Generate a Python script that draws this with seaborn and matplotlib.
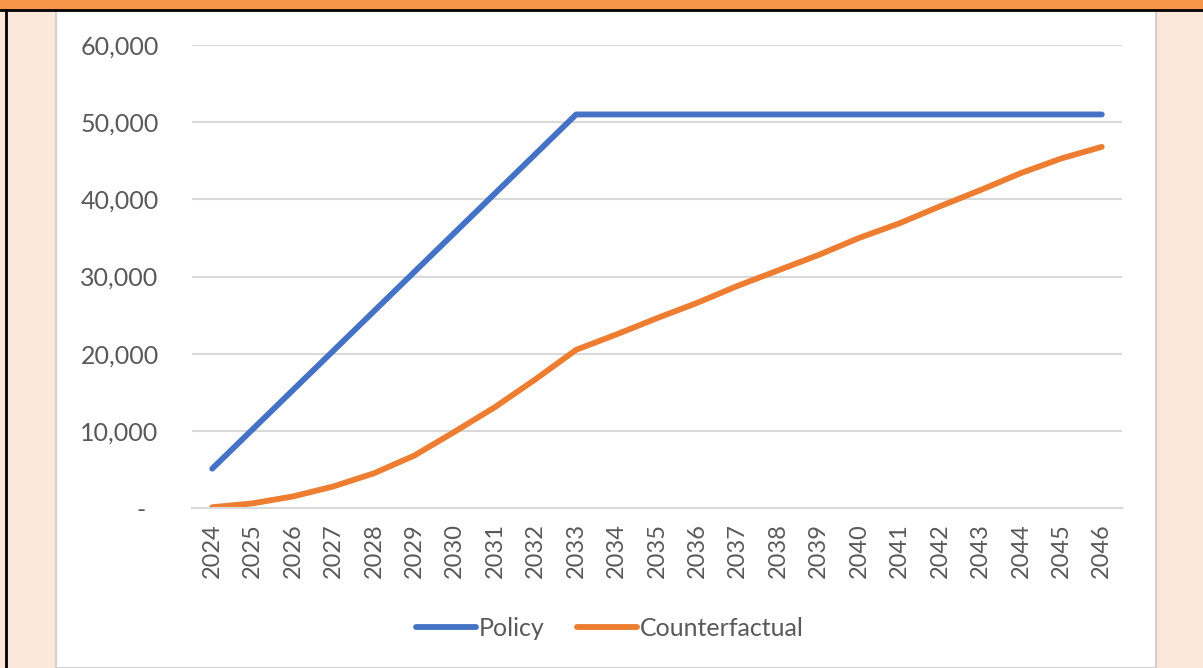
import pandas as pd
import matplotlib.pyplot as plt
import seaborn as sns
from matplotlib.patches import Rectangle
from matplotlib.lines import Line2D
from matplotlib.ticker import FuncFormatter

# Data
years = list(range(2024, 2047))
policy = [5100, 10200, 15300, 20400, 25500, 30600, 35700, 40800, 45900, 51000,
          51000, 51000, 51000, 51000, 51000, 51000, 51000, 51000, 51000, 51000,
          51000, 51000, 51000]
counterfactual = [100, 600, 1500, 2800, 4500, 6800, 9900, 13100, 16700, 20500,
                  22500, 24600, 26600, 28800, 30800, 32800, 35000, 36900, 39100,
                  41200, 43400, 45300, 46800]
series_names = ["Policy", "Counterfactual"]
colors = ["#4472C4", "#ED7D31"]

df = pd.DataFrame({
    "Year": years * 2,
    "Value": policy + counterfactual,
    "Series": ["Policy"] * len(years) + ["Counterfactual"] * len(years),
})

sns.set_style("white")
plt.rcParams["font.family"] = ["Lato", "DejaVu Sans"]

W, H = 1203, 668
fig = plt.figure(figsize=(W / 100, H / 100), dpi=100)
fig.patch.set_facecolor("#FCE8DA")

# --- Decorations: orange band, black borders, white panel ---
fig.patches.append(Rectangle((0, 1 - 10 / H), 1, 10 / H, transform=fig.transFigure,
                             facecolor="#F79646", edgecolor="none", zorder=-2))
fig.patches.append(Rectangle((56 / W, 0), (1156 - 56) / W, (H - 11) / H,
                             transform=fig.transFigure, facecolor="white",
                             edgecolor="#D0D0D0", linewidth=1.5, zorder=-2))
fig.lines.append(Line2D([0, 1], [1 - 10 / H, 1 - 10 / H], transform=fig.transFigure,
                        color="black", linewidth=2, zorder=-1))
fig.lines.append(Line2D([6 / W, 6 / W], [0, 1 - 10 / H], transform=fig.transFigure,
                        color="black", linewidth=2, zorder=-1))

ax = fig.add_axes([192 / W, 1 - 508 / H, 930 / W, (508 - 45) / H])
ax.set_zorder(1)
ax.set_facecolor("none")

sns.lineplot(data=df, x="Year", y="Value", hue="Series", hue_order=series_names,
             palette=colors, linewidth=4.2, ax=ax, legend=False,
             solid_capstyle="round")

ax.set_xlim(2023.5, 2046.5)
ax.set_ylim(0, 60000)
ax.set_yticks(range(0, 60001, 10000))
# accounting-style zero: a dash indented from the right edge
ax.yaxis.set_major_formatter(FuncFormatter(lambda v, p: "-  " if v == 0 else f"{int(v):,}"))
ax.set_xticks(years)
ax.set_xticklabels([str(y) for y in years], rotation=90)

ax.grid(axis="y", color="#D9D9D9", linewidth=1.5)
ax.set_axisbelow(True)
for s in ["top", "right", "left"]:
    ax.spines[s].set_visible(False)
ax.spines["bottom"].set_color("#D9D9D9")
ax.spines["bottom"].set_linewidth(1.5)

ax.tick_params(axis="y", length=0, pad=24, labelsize=18, labelcolor="#595959")
ax.tick_params(axis="x", length=0, pad=11, labelsize=17, labelcolor="#595959")
ax.set_xlabel("")
ax.set_ylabel("")

handles = [Line2D([], [], color=c, linewidth=4.2, solid_capstyle="round") for c in colors]
leg = fig.legend(handles, series_names, loc="center", bbox_to_anchor=(610 / W, 1 - 628 / H),
                 ncol=2, frameon=False, fontsize=18, labelcolor="#595959",
                 handlelength=2.4, handletextpad=0.1, columnspacing=1.3)
leg.set_zorder(2)

fig.savefig("out.png", dpi=100, facecolor=fig.get_facecolor())
